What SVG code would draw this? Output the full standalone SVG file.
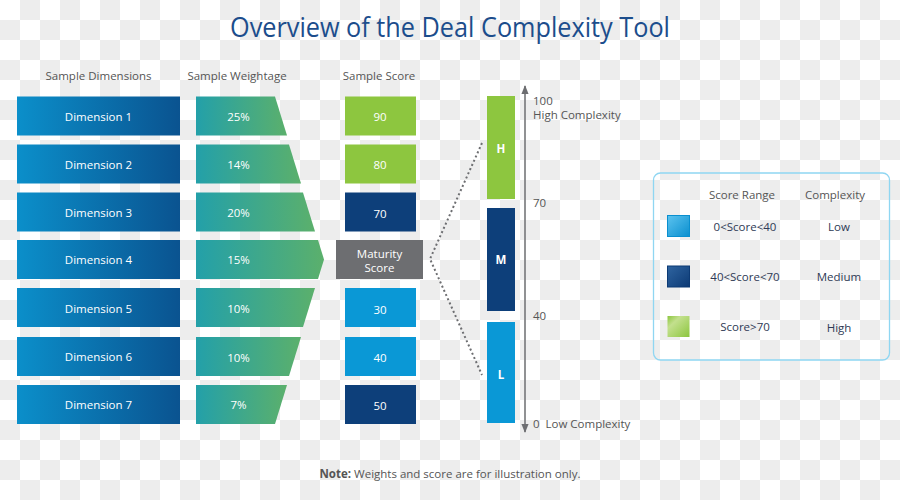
<svg xmlns="http://www.w3.org/2000/svg" width="900" height="500" viewBox="0 0 900 500">
<defs>
<pattern id="checker" x="0" y="0" width="40" height="40" patternUnits="userSpaceOnUse">
<rect width="40" height="40" fill="#ffffff"/>
<rect x="20" y="0" width="20" height="20" fill="#ededed"/>
<rect x="0" y="20" width="20" height="20" fill="#ededed"/>
</pattern>
<linearGradient id="gDim" x1="0" y1="0" x2="1" y2="0">
<stop offset="0" stop-color="#0b8fca"/>
<stop offset="1" stop-color="#0a5390"/>
</linearGradient>
<linearGradient id="gWt" x1="0" y1="0" x2="1" y2="0">
<stop offset="0" stop-color="#23a0a9"/>
<stop offset="1" stop-color="#5bb06c"/>
</linearGradient>
<linearGradient id="gSwL" x1="0" y1="0" x2="1" y2="1">
<stop offset="0" stop-color="#5cc3ef"/>
<stop offset="1" stop-color="#0a8fcf"/>
</linearGradient>
<linearGradient id="gSwM" x1="0" y1="0" x2="1" y2="1">
<stop offset="0" stop-color="#2f64a0"/>
<stop offset="1" stop-color="#0c3a75"/>
</linearGradient>
<linearGradient id="gSwH" x1="0" y1="0" x2="1" y2="1">
<stop offset="0" stop-color="#8cc63e"/>
<stop offset="0.3" stop-color="#c3e08e"/>
<stop offset="1" stop-color="#8cc63e"/>
</linearGradient>
<marker id="arr" viewBox="0 0 10 10" refX="9" refY="5" markerWidth="6" markerHeight="6" orient="auto-start-reverse">
<path d="M0,1 L10,5 L0,9 z" fill="#6d6e71"/>
</marker>
<style>
.hdr{font-family:"Open Sans","Liberation Sans",sans-serif;font-size:11.5px;fill:#555555;text-anchor:middle}
.wt{font-family:"Open Sans","Liberation Sans",sans-serif;font-size:11.5px;fill:#ffffff;text-anchor:middle;dominant-baseline:central}
.ax{font-family:"Open Sans","Liberation Sans",sans-serif;font-size:11.5px;fill:#555555}
.lg{font-family:"Open Sans","Liberation Sans",sans-serif;font-size:11.5px;fill:#2e3a55;text-anchor:middle;dominant-baseline:central}
.dim{fill:url(#gDim)}
.wtp{fill:url(#gWt)}
.green{fill:#8dc63f}
.navy{fill:#0d3f7a}
.light{fill:#0a98d6}
.dot{fill:none;stroke:#6d6e71;stroke-width:2;stroke-dasharray:2 2.6}
</style>
</defs>
<rect width="900" height="500" fill="url(#checker)"/>

<text x="450" y="37" font-family="'Open Sans','Liberation Sans',sans-serif" font-size="26.5" fill="#1c4d8c" text-anchor="middle" textLength="440" lengthAdjust="spacingAndGlyphs">Overview of the Deal Complexity Tool</text>

<g id="headers">
<text class="hdr" x="98.5" y="80">Sample Dimensions</text>
<text class="hdr" x="237" y="80">Sample Weightage</text>
<text class="hdr" x="379" y="80">Sample Score</text>
</g>

<g id="dimensions">
<g id="dim1"><rect class="dim" x="17" y="96.5" width="163" height="39"/><text class="wt" x="98.5" y="116">Dimension 1</text></g>
<g id="dim2"><rect class="dim" x="17" y="144.5" width="163" height="39"/><text class="wt" x="98.5" y="164">Dimension 2</text></g>
<g id="dim3"><rect class="dim" x="17" y="192.5" width="163" height="39"/><text class="wt" x="98.5" y="212">Dimension 3</text></g>
<g id="dim4"><rect class="dim" x="17" y="240" width="163" height="39"/><text class="wt" x="98.5" y="259.5">Dimension 4</text></g>
<g id="dim5"><rect class="dim" x="17" y="288" width="163" height="39"/><text class="wt" x="98.5" y="308">Dimension 5</text></g>
<g id="dim6"><rect class="dim" x="17" y="337" width="163" height="39"/><text class="wt" x="98.5" y="356.5">Dimension 6</text></g>
<g id="dim7"><rect class="dim" x="17" y="385" width="163" height="39"/><text class="wt" x="98.5" y="404.5">Dimension 7</text></g>
</g>

<g id="weightages">
<g id="wt1"><polygon class="wtp" points="196,96.5 275,96.5 287,135.5 196,135.5"/><text class="wt" x="238.5" y="116">25%</text></g>
<g id="wt2"><polygon class="wtp" points="196,144.5 289,144.5 301,183.5 196,183.5"/><text class="wt" x="238.5" y="164">14%</text></g>
<g id="wt3"><polygon class="wtp" points="196,192.5 303,192.5 315,231.5 196,231.5"/><text class="wt" x="238.5" y="212">20%</text></g>
<g id="wt4"><polygon class="wtp" points="196,240 318,240 324,259.5 318,279 196,279"/><text class="wt" x="238.5" y="259.5">15%</text></g>
<g id="wt5"><polygon class="wtp" points="196,288 315,288 303,327 196,327"/><text class="wt" x="238.5" y="308">10%</text></g>
<g id="wt6"><polygon class="wtp" points="196,337 301,337 289,376 196,376"/><text class="wt" x="238.5" y="357">10%</text></g>
<g id="wt7"><polygon class="wtp" points="196,385 287,385 275,424 196,424"/><text class="wt" x="238.5" y="404.5">7%</text></g>
</g>

<g id="scores">
<g id="sc1"><rect class="green" x="345" y="96.5" width="71" height="39"/><text class="wt" x="380" y="116">90</text></g>
<g id="sc2"><rect class="green" x="345" y="144.5" width="71" height="39"/><text class="wt" x="380" y="164">80</text></g>
<g id="sc3"><rect class="navy" x="345" y="192.5" width="71" height="39"/><text class="wt" x="380" y="213">70</text></g>
<g id="maturity"><rect x="336" y="240" width="87" height="39" fill="#6d6e71"/><text class="wt" x="379.5" y="253">Maturity</text><text class="wt" x="379.5" y="267">Score</text></g>
<g id="sc5"><rect class="light" x="345" y="288" width="71" height="39"/><text class="wt" x="380" y="309">30</text></g>
<g id="sc6"><rect class="light" x="345" y="337" width="71" height="39"/><text class="wt" x="380" y="357">40</text></g>
<g id="sc7"><rect class="navy" x="345" y="385" width="71" height="39"/><text class="wt" x="380" y="405">50</text></g>
</g>

<g id="connectors">
<polyline class="dot" points="482,143 430,259 482,375"/>
<line x1="525" y1="432" x2="525" y2="86" stroke="#6d6e71" stroke-width="1.5" marker-start="url(#arr)" marker-end="url(#arr)"/>
</g>

<g id="bars">
<g id="barH"><rect class="green" x="487" y="96" width="28" height="103"/><text class="wt" x="501" y="148" font-weight="bold">H</text></g>
<g id="barM"><rect class="navy" x="487" y="208" width="28" height="103"/><text class="wt" x="501" y="259.5" font-weight="bold">M</text></g>
<g id="barL"><rect class="light" x="487" y="322" width="28" height="101"/><text class="wt" x="501" y="374" font-weight="bold">L</text></g>
</g>

<g id="axis-labels">
<text class="ax" x="533" y="105">100</text>
<text class="ax" x="533" y="118.5">High Complexity</text>
<text class="ax" x="533" y="207">70</text>
<text class="ax" x="533" y="320">40</text>
<text class="ax" x="533" y="427.5" xml:space="preserve">0  Low Complexity</text>
</g>

<g id="legend">
<rect x="653.5" y="173" width="236" height="187" rx="7" fill="none" stroke="#8fd6f2" stroke-width="1.3"/>
<text class="lg" x="742" y="194" fill="#555555" style="fill:#555555">Score Range</text>
<text class="lg" x="835" y="194" style="fill:#555555">Complexity</text>
<g id="lg-low"><rect x="667.5" y="215.5" width="22" height="21" fill="url(#gSwL)" stroke="#0a8fcf" stroke-width="1"/><text class="lg" x="745" y="226">0&lt;Score&lt;40</text><text class="lg" x="839" y="226">Low</text></g>
<g id="lg-med"><rect x="667.5" y="266" width="22" height="21" fill="url(#gSwM)" stroke="#0c3a75" stroke-width="1"/><text class="lg" x="745" y="276.5">40&lt;Score&lt;70</text><text class="lg" x="839" y="276.5">Medium</text></g>
<g id="lg-high"><rect x="667.5" y="316" width="22" height="21" fill="url(#gSwH)"/><text class="lg" x="745" y="326.5">Score&gt;70</text><text class="lg" x="839" y="327">High</text></g>
</g>

<text x="450" y="478" font-family="'Open Sans','Liberation Sans',sans-serif" font-size="11.5" fill="#555555" text-anchor="middle"><tspan font-weight="bold">Note:</tspan> Weights and score are for illustration only.</text>
</svg>
